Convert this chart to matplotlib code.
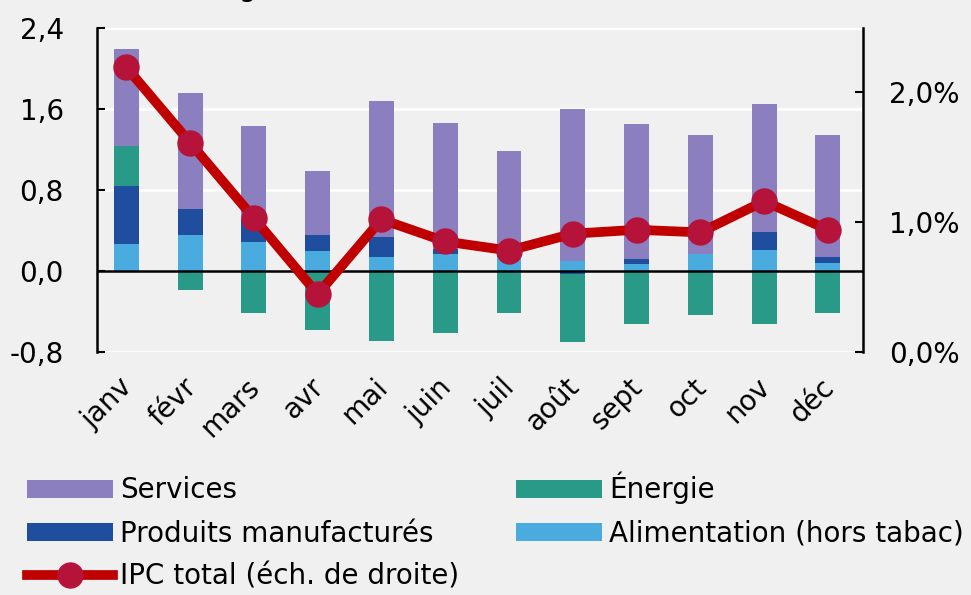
import matplotlib
matplotlib.use("Agg")
import matplotlib.pyplot as plt
import matplotlib.transforms as mtransforms
import numpy as np
from matplotlib.ticker import FuncFormatter

months = ["janv", "févr", "mars", "avr", "mai", "juin", "juil", "août",
          "sept", "oct", "nov", "déc"]
food = [0.27, 0.355, 0.29, 0.20, 0.14, 0.17, 0.14, 0.10, 0.07, 0.17, 0.21, 0.08]
manu = [0.57, 0.255, 0.22, 0.155, 0.195, 0.05, 0.01, -0.03, 0.05, 0.00, 0.175, 0.06]
energy = [0.39, -0.19, -0.41, -0.58, -0.69, -0.61, -0.41, -0.67, -0.52, -0.435, -0.52, -0.415]
services = [0.96, 1.15, 0.92, 0.635, 1.345, 1.24, 1.04, 1.50, 1.33, 1.17, 1.265, 1.20]
ipc = [2.19, 1.61, 1.03, 0.445, 1.02, 0.85, 0.78, 0.91, 0.94, 0.92, 1.16, 0.94]

BG = "#F0F0F0"
FS = 20
plt.rcParams["font.family"] = ["DejaVu Sans"]

fig = plt.figure(figsize=(9.71, 5.95), dpi=100, facecolor=BG)
ax = fig.add_axes([97 / 971, 1 - 352 / 595, 766 / 971, 324 / 595])
ax.set_facecolor(BG)

x = np.arange(len(months))
pos = np.zeros(len(months))
neg = np.zeros(len(months))
series = [("Alimentation (hors tabac)", food, "#4AABDF"),
          ("Produits manufacturés", manu, "#1F4E9E"),
          ("Énergie", energy, "#2A9A88"),
          ("Services", services, "#8B7FC0")]
handles = {}
for name, vals, color in series:
    v = np.array(vals)
    base = np.where(v >= 0, pos, neg)
    handles[name] = ax.bar(x, v, 0.39, bottom=base, color=color, zorder=3,
                           label=name)
    pos = np.where(v >= 0, pos + v, pos)
    neg = np.where(v < 0, neg + v, neg)

ax.set_xlim(-0.46, 11.55)
ax.set_ylim(-0.8, 2.4)
ax.set_yticks([-0.8, 0.0, 0.8, 1.6, 2.4])
ax.yaxis.set_major_formatter(FuncFormatter(lambda v, _: f"{v:.1f}".replace(".", ",")))
for yv in [-0.8, 0.8, 1.6, 2.4]:
    ax.axhline(yv, color="white", lw=2, zorder=1)
ax.axhline(0, color="black", lw=1.8, zorder=4)
ax.set_xticks(x)
ax.set_xticklabels(months, rotation=45, ha="right", rotation_mode="anchor")
ax.tick_params(axis="x", length=0, pad=15, labelsize=FS)
shift = mtransforms.ScaledTranslation(-8 / 100, 0, fig.dpi_scale_trans)
for lab in ax.get_xticklabels():
    lab.set_transform(lab.get_transform() + shift)
ax.tick_params(axis="y", direction="in", length=6, width=1.5, pad=24, labelsize=FS)
for s in ["top", "bottom", "right"]:
    ax.spines[s].set_visible(False)
ax.spines["left"].set_linewidth(1.8)

ax2 = ax.twinx()
ax2.set_ylim(0, 2.492)
ax2.set_yticks([0, 1, 2])
ax2.yaxis.set_major_formatter(FuncFormatter(lambda v, _: f"{v:.1f}%".replace(".", ",")))
ax2.tick_params(axis="y", direction="in", length=6, width=1.5, pad=19, labelsize=FS)
for s in ["top", "bottom", "left"]:
    ax2.spines[s].set_visible(False)
ax2.spines["right"].set_linewidth(1.8)
line, = ax2.plot(x, ipc, color="#C00000", lw=7, marker="o", markersize=18,
                 markerfacecolor="#B5133A", markeredgecolor="#B5133A",
                 label="IPC total (éch. de droite)", zorder=5)

# title sits mostly above the top edge, as in the source image
fig.text(0.022, 1 + 4 / 595, "(%) et total, en glissement annuel)",
         fontsize=FS, va="baseline", ha="left")

order = ["Services", "Produits manufacturés", None, "Énergie", "Alimentation (hors tabac)"]
hs, ls = [], []
for n in order:
    if n is None:
        hs.append(line)
        ls.append("IPC total (éch. de droite)")
    else:
        hs.append(handles[n])
        ls.append(n)
fig.legend(hs, ls, ncol=2, loc="upper left", bbox_to_anchor=(0.028, 1 - 472 / 595),
           frameon=False, fontsize=FS, handlelength=3.1, handleheight=0.6,
           labelspacing=0.54, columnspacing=2.05, handletextpad=0.25,
           borderaxespad=0, borderpad=0)

fig.savefig("out.png", dpi=100, facecolor=BG)
